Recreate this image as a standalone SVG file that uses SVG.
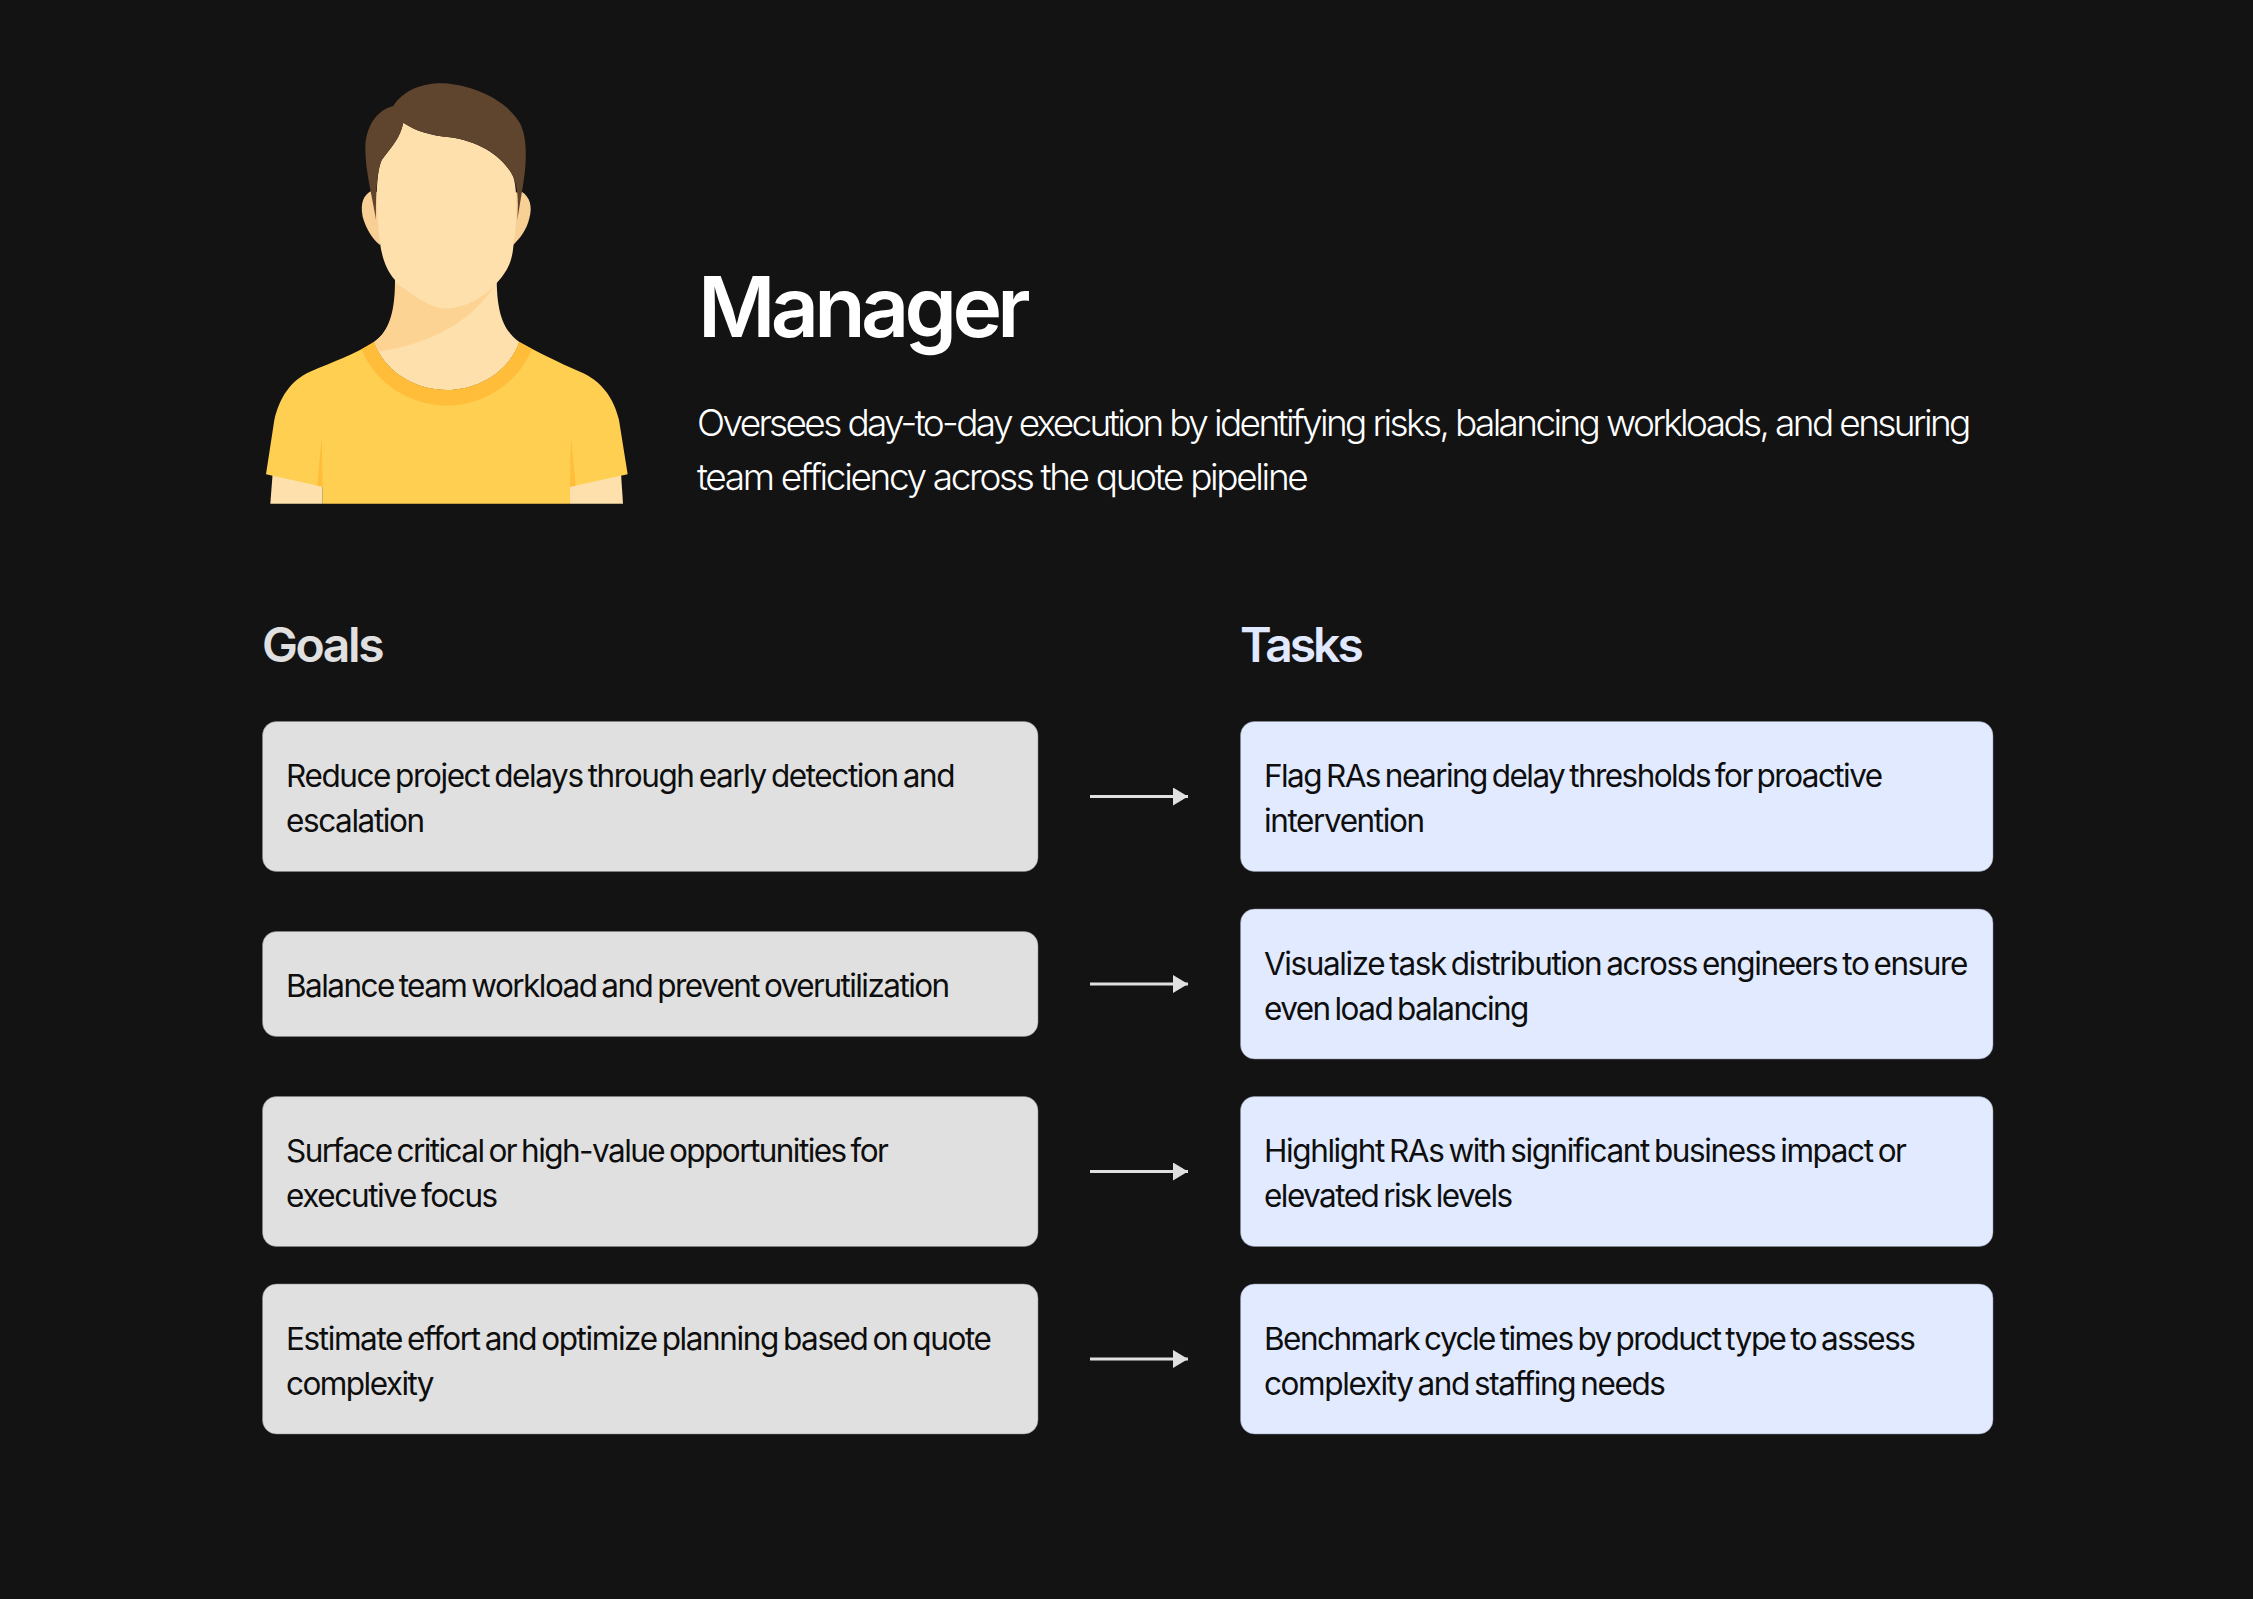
<svg xmlns="http://www.w3.org/2000/svg" width="2253" height="1599" viewBox="0 0 2253 1599">
<defs>
<marker id="ah" markerUnits="userSpaceOnUse" markerWidth="16" markerHeight="18" refX="15" refY="9" orient="auto"><path d="M0 0L15 9L0 18Z" fill="#e0e0e0"/></marker>
</defs>
<style>
text{font-family:"Inter","Liberation Sans",sans-serif}
.goal{fill:#e0e0e0;stroke:#8a8a8a;stroke-width:.5}
.task{fill:#e1eaff;stroke:#8a90a0;stroke-width:.5}
.t{font-size:31.5px;font-weight:370;fill:#0e0e0e;letter-spacing:-1.4px;word-spacing:-2.4px}
.n{letter-spacing:-1.55px}
.h{font-size:48px;font-weight:600;letter-spacing:-2.4px}
.d{font-size:37px;font-weight:300;fill:#fff;letter-spacing:-2.64px}
.c{stroke:#e0e0e0;stroke-width:3;fill:none;marker-end:url(#ah)}
</style>
<rect width="2253" height="1599" fill="#131313"/>
<g id="avatar" transform="translate(240 60) scale(.33333)">
<path fill="#f8cf94" d="M395 392C370 405 360 430 368 470C378 505 395 535 420 555L430 400Z"/>
<path fill="#f8cf94" d="M845 395C870 410 878 440 868 475C860 510 840 535 820 555L810 400Z"/>
<path fill="#fee0ac" d="M465 650V700C465 770 440 820 402 846C430 930 520 990 620 990C720 990 810 930 838 846C790 810 770 760 770 650Z"/>
<path fill="#fdd394" d="M465 665C510 700 570 745 620 745C670 745 725 710 770 668C700 780 580 850 415 875L402 846C440 820 465 770 465 665Z"/>
<path fill="#fee0ac" d="M91 1331L98 1240H248V1331Z"/>
<path fill="#fee0ac" d="M990 1331V1240H1143L1149 1331Z"/>
<path fill="#ffcf52" d="M402 846C340 885 280 905 210 935C150 962 118 1015 103 1080L78 1243L248 1280V1331H990V1280L1163 1243L1137 1080C1122 1015 1085 962 1020 935C950 905 900 880 838 846C810 930 720 990 620 990C520 990 430 930 402 846Z"/>
<path fill="#ffbd3a" d="M402 846L365 868C405 970 510 1037 620 1037C730 1037 835 970 875 868L838 846C810 930 720 990 620 990C520 990 430 930 402 846Z"/>
<path fill="#ffbd3a" d="M245 1130L248 1280L232 1277Z"/>
<path fill="#ffbd3a" d="M993 1130L1007 1277L990 1280Z"/>
<path fill="#fee0ac" d="M490 188C530 215 570 225 630 232C720 245 790 290 820 350C835 400 830 500 820 560C815 620 790 650 750 690C710 725 660 745 620 745C570 745 510 700 465 660C430 620 420 570 415 500C408 420 408 340 425 300C455 260 480 235 490 188Z"/>
<path fill="#5f452d" d="M408 480C395 400 375 330 376 260C378 200 410 150 460 138C490 90 550 68 610 70C700 75 800 120 840 190C865 240 860 320 845 400L832 480C835 420 835 390 820 350C790 290 720 245 630 232C570 225 530 215 490 188C480 235 455 260 425 300C408 340 408 420 408 480Z"/>
</g>
<g id="header">
<text x="698" y="337" font-size="84" font-weight="600" fill="#fff" letter-spacing="-4.7">Manager</text>
<text class="d" x="697" y="436">Oversees day-to-day execution by identifying risks, balancing workloads, and ensuring</text>
<text class="d" x="697" y="490" style="letter-spacing:-2.36px">team efficiency across the quote pipeline</text>
</g>
<text class="h" x="262" y="662" fill="#e0e0e0">Goals</text>
<text class="h" x="1240" y="662" fill="#e0e9ff" style="letter-spacing:-3px">Tasks</text>
<g id="connectors">
<path class="c" d="M1090 796.500H1188"/>
<path class="c" d="M1090 984H1188"/>
<path class="c" d="M1090 1171.500H1188"/>
<path class="c" d="M1090 1359H1188"/>
</g>
<g id="goal1"><rect class="goal" x="262.500" y="721.500" width="775.500" height="150" rx="14"/><text class="t" x="286" y="787">Reduce project delays through early detection and</text><text class="t" x="286" y="832">escalation</text></g>
<g id="goal2"><rect class="goal" x="262.500" y="931.500" width="775.500" height="105" rx="14"/><text class="t n" x="286" y="997">Balance team workload and prevent overutilization</text></g>
<g id="goal3"><rect class="goal" x="262.500" y="1096.500" width="775.500" height="150" rx="14"/><text class="t n" x="286" y="1162">Surface critical or high-value opportunities for</text><text class="t" x="286" y="1207">executive focus</text></g>
<g id="goal4"><rect class="goal" x="262.500" y="1284" width="775.500" height="150" rx="14"/><text class="t" x="286" y="1349.500">Estimate effort and optimize planning based on quote</text><text class="t n" x="286" y="1394.500">complexity</text></g>
<g id="task1"><rect class="task" x="1240.500" y="721.500" width="752.500" height="150" rx="14"/><text class="t n" x="1264" y="787">Flag RAs nearing delay thresholds for proactive</text><text class="t" x="1264" y="832">intervention</text></g>
<g id="task2"><rect class="task" x="1240.500" y="909" width="752.500" height="150" rx="14"/><text class="t" x="1264" y="974.500">Visualize task distribution across engineers to ensure</text><text class="t n" x="1264" y="1019.500">even load balancing</text></g>
<g id="task3"><rect class="task" x="1240.500" y="1096.500" width="752.500" height="150" rx="14"/><text class="t" x="1264" y="1162">Highlight RAs with significant business impact or</text><text class="t n" x="1264" y="1207">elevated risk levels</text></g>
<g id="task4"><rect class="task" x="1240.500" y="1284" width="752.500" height="150" rx="14"/><text class="t n" x="1264" y="1349.500">Benchmark cycle times by product type to assess</text><text class="t" x="1264" y="1394.500">complexity and staffing needs</text></g>
</svg>
